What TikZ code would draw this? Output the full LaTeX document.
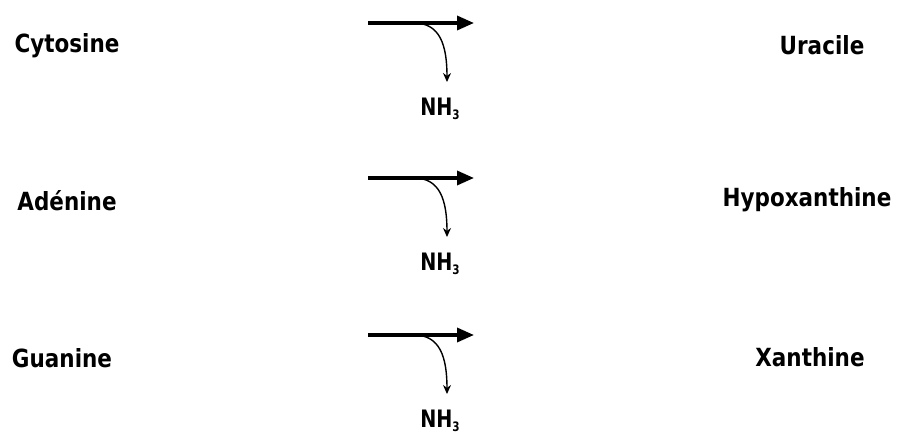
\documentclass[tikz,border=0pt]{standalone}
\usepackage{fontspec}
\setmainfont{DejaVu Sans}
\usetikzlibrary{arrows.meta}
\begin{document}
\begin{tikzpicture}[x=1pt,y=-1pt,
  lbl/.style={font=\fontsize{25}{28}\selectfont\bfseries\addfontfeature{FakeStretch=0.86}, inner sep=0pt},
  nh/.style={font=\fontsize{24}{26}\selectfont\bfseries\addfontfeature{FakeStretch=0.8}, inner sep=0pt},
  main/.style={line width=3.4pt, -{Triangle[length=17pt,width=14pt]}},
  side/.style={line width=1.4pt, -{Stealth[length=9pt,width=8pt]}}]
\useasboundingbox (0,0) rectangle (898,441);
\foreach \y/\a/\b/\bx/\ax [count=\i] in {45/Cytosine/Uracile/822/67, 200/Adénine/Hypoxanthine/807/67, 357/Guanine/Xanthine/810/62}{
  \node[lbl] (s\i) at (\ax,\y+1) {\a};
  \node[lbl] (p\i) at (\bx,\y) {\b};
  \coordinate (a\i) at (368,\y-22);
  \coordinate (b\i) at (474,\y-22);
  \coordinate (c\i) at (414,\y-22);
  \coordinate (d\i) at (447,\y+37);
  \node[nh] (n\i) at (440,\y+64) {NH\raisebox{-0.35ex}{\fontsize{13}{14}\selectfont 3}};
  \draw[main] (a\i) -- (b\i);
  \draw[side] (c\i) .. controls (440,\y-22) and (447,\y) .. (d\i);
}
\end{tikzpicture}
\end{document}
